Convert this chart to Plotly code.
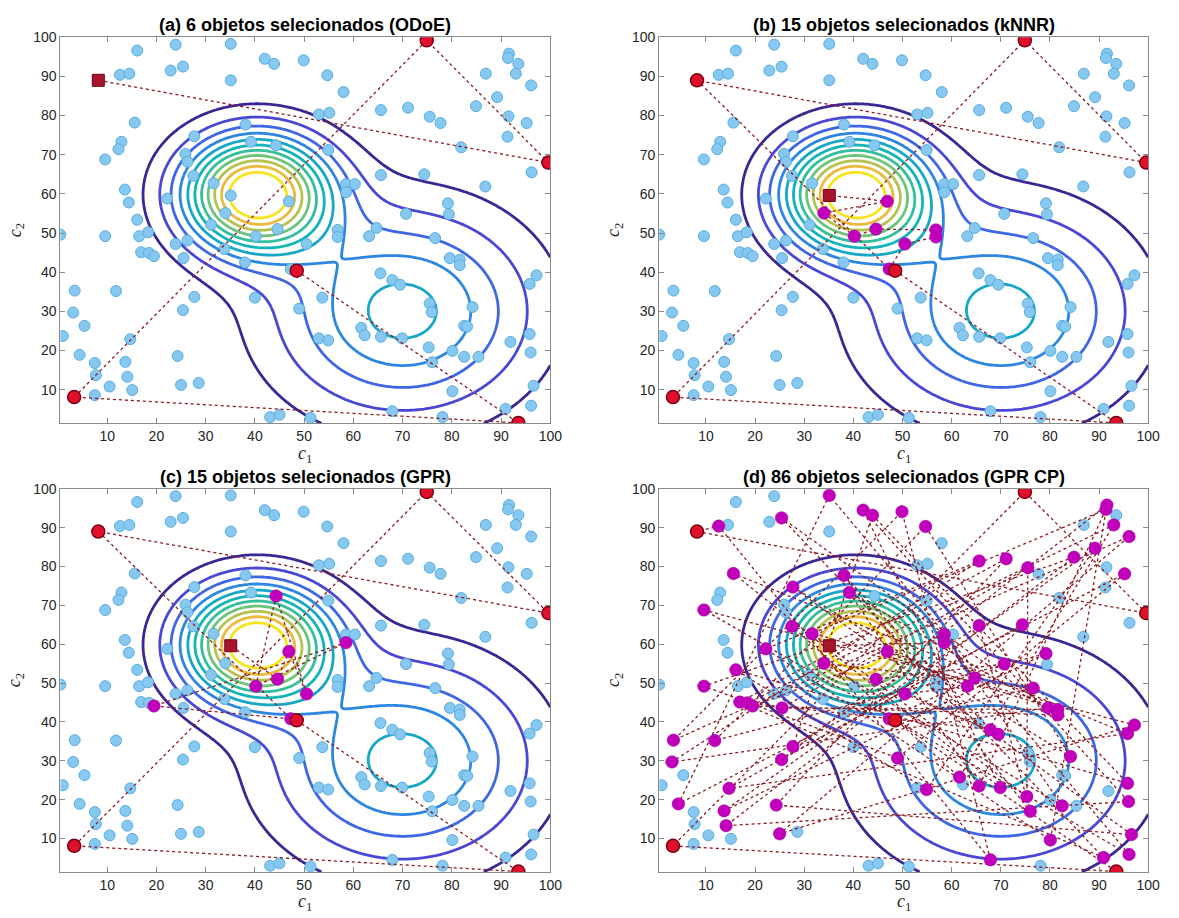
import numpy as np
import plotly.graph_objects as go

# ---------------- data: candidate objects (ID = position + 1) ----------------
obj_x = [35.1, 23.9, 16.1, 42.0, 43.9, 49.9, 22.9, 25.4, 12.6, 14.5,
         35.1, 54.7, 58.0, 8.2, 74.9, 91.6, 91.4, 93.5, 93.0, 86.9,
         96.1, 89.2, 84.9, 65.6, 71.1, 75.5, 77.7, 91.5, 95.2, 91.3,
         81.9, 53.0, 55.1, 54.9, 15.6, 12.9, 12.3, 9.6, 38.1, 27.7,
         39.2, 44.3, 25.9, 26.3, 27.5, 31.6, 35.1, 46.9, 34.0, 31.1,
         44.6, 40.2, 26.3, 23.9, 22.2, 13.6, 14.4, 16.1, 16.5, 18.3,
         9.6, 0.5, 16.9, 18.5, 19.5, 25.5, 33.8, 38.0, 50.5, 56.8,
         56.8, 58.5, 60.3, 58.5, 65.6, 74.4, 86.8, 96.2, 99.6, 79.2,
         79.4, 70.7, 64.7, 63.2, 76.6, 79.6, 81.6, 81.6, 97.2, 95.8,
         65.5, 67.9, 69.5, 48.5, 47.3, 40.0, 53.7, 49.0, 75.5, 75.9,
         84.2, 61.6, 62.3, 65.6, 69.9, 53.0, 54.9, 82.5, 83.1, 75.3,
         80.1, 82.5, 85.4, 76.0, 91.9, 95.8, 96.0, 96.6, 96.1, 90.9,
         80.1, 67.9, 78.1, 51.3, 43.1, 45.0, 93.5, 3.3, 27.7, 25.4,
         14.7, 11.8, 3.4, 3.1, 5.4, 1.0, 4.4, 7.5, 13.7, 7.7,
         14.1, 10.5, 15.1, 7.5, 24.3, 25.0, 28.6]
obj_y = [98.3, 98.1, 96.6, 94.5, 93.2, 94.1, 91.5, 92.5, 90.4, 90.7,
         89.0, 90.3, 86.0, 89.0, 99.2, 95.8, 94.7, 93.2, 90.7, 90.7,
         87.7, 84.7, 82.4, 81.4, 82.0, 79.7, 78.1, 79.8, 78.1, 74.6,
         71.9, 80.3, 80.7, 71.2, 78.2, 73.3, 71.4, 68.8, 77.7, 74.7,
         73.3, 72.4, 70.2, 68.2, 64.6, 62.7, 59.6, 58.1, 55.1, 52.1,
         51.0, 49.2, 48.1, 47.2, 58.8, 61.1, 57.8, 53.4, 49.2, 50.2,
         49.2, 49.6, 45.1, 44.9, 44.1, 43.6, 45.9, 42.5, 47.2, 50.8,
         49.0, 62.5, 62.5, 60.4, 64.8, 65.0, 61.9, 65.5, 68.0, 57.6,
         54.8, 54.9, 51.3, 49.2, 48.7, 43.6, 43.2, 41.8, 39.2, 37.0,
         39.7, 38.0, 36.8, 40.4, 40.8, 33.5, 33.5, 30.7, 32.0, 29.8,
         31.1, 25.8, 23.9, 23.5, 23.1, 23.1, 22.6, 26.3, 26.1, 20.8,
         19.9, 18.4, 18.4, 17.0, 22.2, 24.2, 19.5, 11.0, 5.9, 5.1,
         9.6, 4.5, 3.0, 2.8, 3.0, 3.6, 1.5, 8.1, 33.7, 30.3,
         22.9, 35.2, 35.3, 29.7, 26.3, 23.7, 18.9, 16.8, 17.1, 13.7,
         13.3, 10.8, 9.9, 8.6, 18.6, 11.2, 11.7]

# selection sequences (object IDs, in selection order; first 6 = initial design,
# last one = most recent selection)
seq_initial = [94, 127, 128, 15, 79, 14]
seq_b = seq_initial + [95, 69, 71, 70, 51, 52, 49, 48, 47]
seq_c = seq_initial + [95, 65, 74, 52, 42, 69, 48, 51, 47]
seq_d = seq_initial + [9, 122, 6, 133, 21, 146, 89, 38, 119, 1,
                       137, 29, 98, 61, 23, 141, 117, 4, 105, 35,
                       90, 131, 76, 130, 16, 121, 55, 24, 134, 86,
                       8, 120, 63, 25, 145, 118, 40, 101, 12, 132,
                       80, 139, 22, 107, 58, 116, 5, 129, 75, 114,
                       39, 92, 64, 19, 102, 45, 87, 66, 26, 110,
                       46, 17, 104, 41, 88, 65, 72, 112, 49, 85,
                       95, 82, 51, 93, 69, 84, 48, 83, 74, 47]
sequences = [seq_initial, seq_b, seq_c, seq_d]
n_initial = 6

titles = ["(a) 6 objetos selecionados (ODoE)",
          "(b) 15 objetos selecionados (kNNR)",
          "(c) 15 objetos selecionados (GPR)",
          "(d) 86 objetos selecionados (GPR CP)"]
tick_vals = [10, 20, 30, 40, 50, 60, 70, 80, 90, 100]

# density model behind the contour lines (two Gaussian bumps)
peak_centers_x = [40.3, 70.0]
peak_centers_y = [60.0, 30.0]
peak_sigmas = [10.2, 18.0]
peak_heights = [1.0, 0.43]
contour_levels = [0.08, 0.16, 0.24, 0.32, 0.40, 0.48, 0.56, 0.64, 0.72, 0.80, 0.88]
level_colors = ["#3B2794", "#4A47D4", "#3F66E4", "#2C86E2", "#16A6C6", "#12B4B8",
                "#33BF9C", "#6CC478", "#B5C24E", "#EBBA3C", "#F7E41E"]

x_lim = [0.5, 100]
y_lim = [1.4, 100]

# ---------------- figure ----------------
W, H = 1179, 918
panel_px = [  # left, right, top, bottom in pixels
    (61, 556, 29.5, 419),
    (666, 1160, 29.5, 419),
    (61, 556, 485, 871.5),
    (666, 1160, 485, 871.5),
]

gx = np.linspace(x_lim[0], x_lim[1], 241)
gy = np.linspace(y_lim[0], y_lim[1], 241)
GX, GY = np.meshgrid(gx, gy)
Z = np.zeros_like(GX)
for cx, cy, s, h in zip(peak_centers_x, peak_centers_y, peak_sigmas, peak_heights):
    Z += h * np.exp(-((GX - cx) ** 2 + (GY - cy) ** 2) / (2 * s ** 2))

fig = go.Figure()
ox = np.array(obj_x)
oy = np.array(obj_y)

axis_line = "#8a8a8a"
tick_font = dict(family="Liberation Sans, Arial, sans-serif", size=14, color="#262626")

for i, seq in enumerate(sequences):
    xa = "x" if i == 0 else f"x{i+1}"
    ya = "y" if i == 0 else f"y{i+1}"
    for lev, col in zip(contour_levels, level_colors):
        fig.add_trace(go.Contour(
            x=gx, y=gy, z=Z, xaxis=xa, yaxis=ya,
            contours=dict(start=lev, end=lev, size=1, coloring="none"),
            line=dict(color=col, width=2.8, smoothing=1.0),
            showscale=False, hoverinfo="skip"))
    # all candidate objects
    fig.add_trace(go.Scatter(
        x=ox, y=oy, mode="markers", xaxis=xa, yaxis=ya,
        marker=dict(size=11, color="#86C8EF", line=dict(color="#5AAEDF", width=1)),
        hoverinfo="skip"))
    idx = [k - 1 for k in seq]
    fig.add_trace(go.Scatter(
        x=ox[idx], y=oy[idx], mode="lines", xaxis=xa, yaxis=ya,
        line=dict(color="#8B1A22", width=1.3, dash="dot"), hoverinfo="skip"))
    new_idx = idx[n_initial:-1] if len(idx) > n_initial else []
    if new_idx:
        fig.add_trace(go.Scatter(
            x=ox[new_idx], y=oy[new_idx], mode="markers", xaxis=xa, yaxis=ya,
            marker=dict(size=12.5, color="#C200BC", line=dict(color="#A000A0", width=0.5)),
            hoverinfo="skip"))
    init_idx = idx[:n_initial] if len(idx) > n_initial else idx[:-1]
    fig.add_trace(go.Scatter(
        x=ox[init_idx], y=oy[init_idx], mode="markers", xaxis=xa, yaxis=ya,
        marker=dict(size=13, color="#E0102C", line=dict(color="#7A0012", width=1.5)),
        hoverinfo="skip"))
    fig.add_trace(go.Scatter(
        x=[ox[idx[-1]]], y=[oy[idx[-1]]], mode="markers", xaxis=xa, yaxis=ya,
        marker=dict(size=12, symbol="square", color="#A8142C", line=dict(color="#6E0012", width=1)),
        hoverinfo="skip"))

    l, r, t, b = panel_px[i]
    axkey = "xaxis" if i == 0 else f"xaxis{i+1}"
    aykey = "yaxis" if i == 0 else f"yaxis{i+1}"
    common = dict(showgrid=False, zeroline=False, showline=True, linecolor=axis_line,
                  linewidth=1, mirror="ticks", ticks="inside", ticklen=5,
                  tickcolor=axis_line, tickvals=tick_vals, tickfont=tick_font)
    fig.update_layout(**{
        axkey: dict(domain=[l / W, r / W], range=x_lim, anchor=ya, **common),
        aykey: dict(domain=[1 - b / H, 1 - t / H], range=y_lim, anchor=xa, **common),
    })
    cxp = (l + r) / 2 / W
    fig.add_annotation(x=cxp, y=1 - (t - 12) / H, xref="paper", yref="paper",
                       text=f"<b>{titles[i]}</b>", showarrow=False,
                       font=dict(family="Liberation Sans, Arial, sans-serif", size=18, color="#000000"),
                       xanchor="center", yanchor="middle")
    fig.add_annotation(x=cxp, y=1 - (b + 31) / H, xref="paper", yref="paper",
                       text="<i>c</i><sub>1</sub>", showarrow=False,
                       font=dict(family="Liberation Serif, Times New Roman, serif", size=18, color="#262626"),
                       xanchor="center", yanchor="middle")
    fig.add_annotation(x=(l - 45) / W, y=1 - (t + b) / 2 / H, xref="paper", yref="paper",
                       text="<i>c</i><sub>2</sub>", showarrow=False, textangle=-90,
                       font=dict(family="Liberation Serif, Times New Roman, serif", size=18, color="#262626"),
                       xanchor="center", yanchor="middle")

fig.update_layout(width=W, height=H, margin=dict(l=0, r=0, t=0, b=0),
                  paper_bgcolor="white", plot_bgcolor="white", showlegend=False)

fig.write_html("out.html")
